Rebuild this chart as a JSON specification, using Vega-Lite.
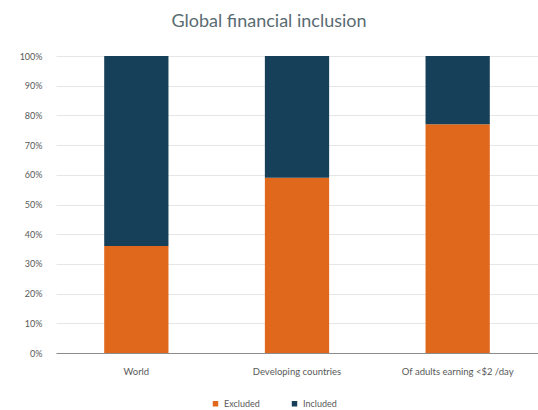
{
  "$schema": "https://vega.github.io/schema/vega-lite/v6.json",
  "width": 482,
  "height": 297,
  "autosize": {"type": "none"},
  "padding": {"left": 56, "top": 56, "right": 0, "bottom": 57},
  "background": "white",
  "title": {"text": "Global financial inclusion", "anchor": "middle", "dx": -28, "offset": 21, "fontSize": 18, "font": "Lato", "fontWeight": "normal", "color": "#5a6b72"},
  "data": {"values": [
    {"category": "World", "status": "Excluded", "value": 0.36, "ord": 0},
    {"category": "World", "status": "Included", "value": 0.64, "ord": 1},
    {"category": "Developing countries", "status": "Excluded", "value": 0.59, "ord": 0},
    {"category": "Developing countries", "status": "Included", "value": 0.41, "ord": 1},
    {"category": "Of adults earning <$2 /day", "status": "Excluded", "value": 0.77, "ord": 0},
    {"category": "Of adults earning <$2 /day", "status": "Included", "value": 0.23, "ord": 1}
  ]},
  "mark": {"type": "bar"},
  "encoding": {
    "x": {"field": "category", "type": "nominal", "sort": ["World", "Developing countries", "Of adults earning <$2 /day"],
      "scale": {"paddingInner": 0.6, "paddingOuter": 0.3},
      "axis": {"title": null, "labelAngle": 0, "ticks": false, "domainColor": "#8c8c8c", "labelColor": "#595959", "labelFont": "Lato", "labelFontSize": 9.5, "labelPadding": 13, "labelLimit": 200}},
    "y": {"field": "value", "type": "quantitative", "stack": "zero",
      "scale": {"domain": [0, 1]},
      "axis": {"title": null, "format": ".0%", "values": [0,0.1,0.2,0.3,0.4,0.5,0.6,0.7,0.8,0.9,1], "labelOverlap": false, "domain": false, "ticks": false, "gridColor": "#e6e6e6", "labelColor": "#595959", "labelFont": "Lato", "labelFontSize": 9, "labelPadding": 14}},
    "color": {"field": "status", "type": "nominal",
      "scale": {"domain": ["Excluded", "Included"], "range": ["#e0681c", "#16405a"]},
      "legend": {"title": null, "orient": "none", "legendX": 155, "legendY": 343, "direction": "horizontal", "symbolType": "square", "symbolSize": 30, "labelFont": "Lato", "labelFontSize": 9, "labelColor": "#595959", "columnPadding": 30}},
    "order": {"field": "ord"}
  },
  "config": {"view": {"stroke": null}}
}
